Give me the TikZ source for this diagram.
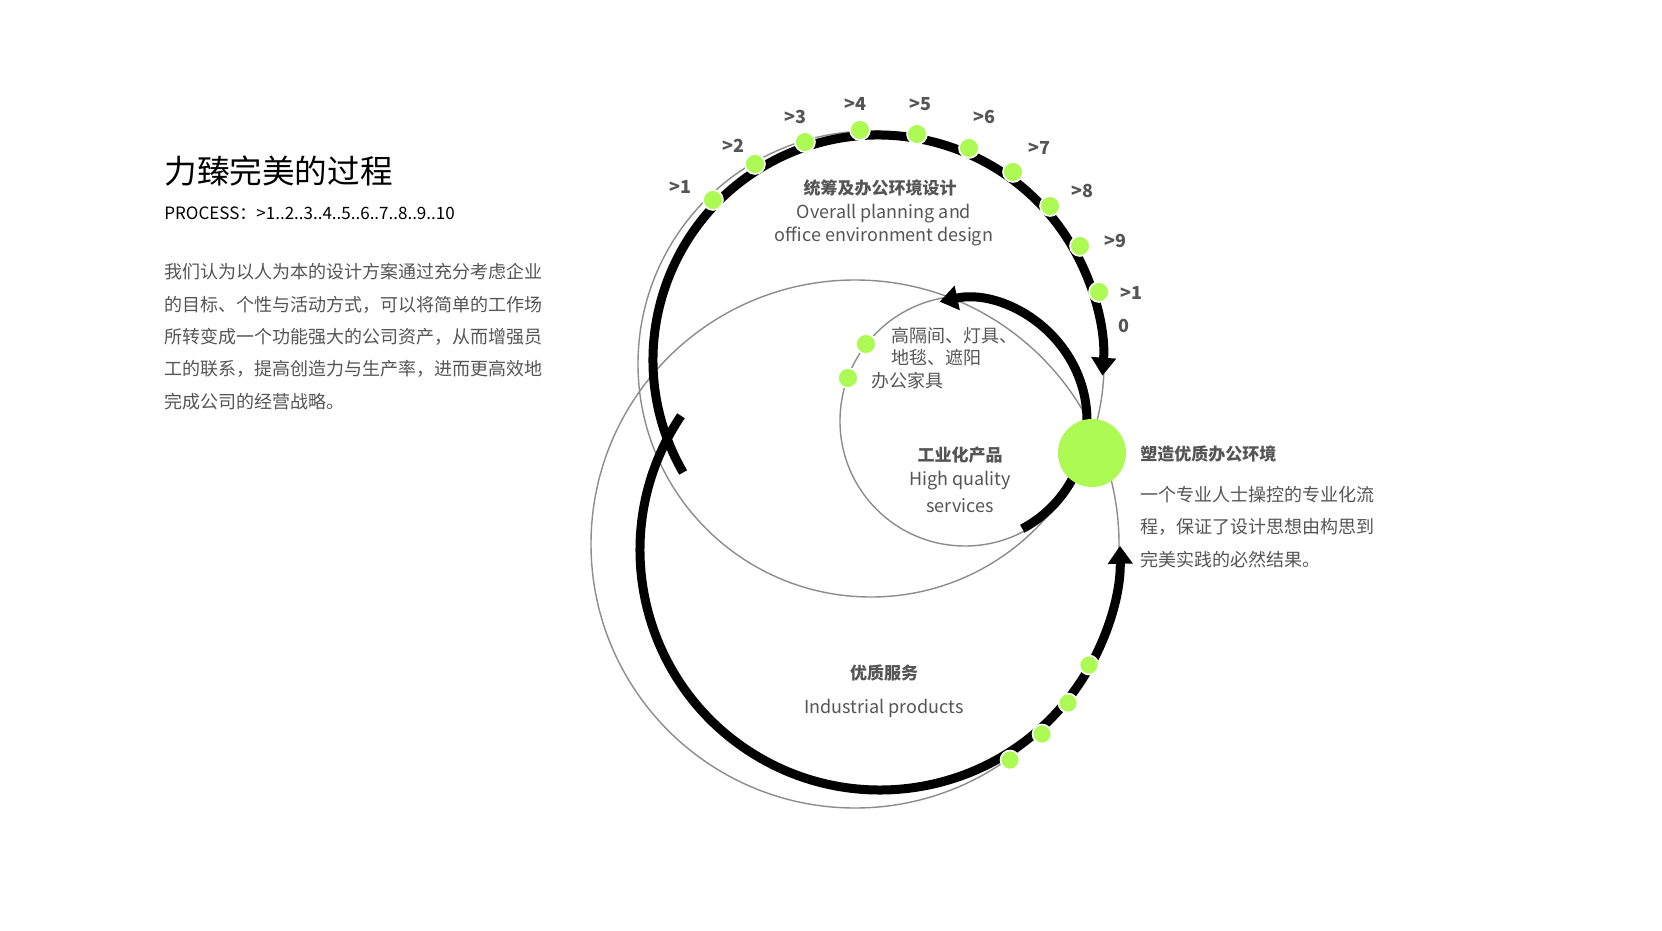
\documentclass[tikz,border=0pt]{standalone}
\usepackage{fontspec}
\setmainfont{Noto Sans CJK SC}
\usetikzlibrary{arrows.meta}
\definecolor{lg}{HTML}{ADFA55}
\definecolor{tx}{HTML}{555555}
\begin{document}
\begin{tikzpicture}[x=0.5pt,y=-0.5pt,
  gc/.style={draw=gray!90,line width=0.7pt},
  bk/.style={line width=4.5pt},
  dot/.style={circle,fill=lg,draw=white,line width=0.8pt,minimum size=10pt,inner sep=0pt},
  sdot/.style={circle,fill=lg,draw=white,line width=0.8pt,minimum size=9.5pt,inner sep=0pt},
  num/.style={font=\bfseries\fontsize{9}{10}\selectfont,text=tx},
  bt/.style={font=\bfseries\fontsize{8.5}{10}\selectfont,text=tx},
  et/.style={font=\fontsize{9}{11}\selectfont,text=tx},
  para/.style={font=\fontsize{9}{16.2}\selectfont,text=tx,align=left,anchor=north west,inner sep=0pt}]
\useasboundingbox[fill=white] (0,0) rectangle (1662,931);
% gray circles
\coordinate (ca) at (871,364);
\coordinate (cb) at (855,544);
\coordinate (cc) at (965,421);
\draw[gc] (ca) circle[radius=233];
\draw[gc] (cb) circle[radius=264];
\draw[gc] (cc) circle[radius=125];
% black arcs
\coordinate (ct) at (878,360);
\draw[bk,-{Triangle[length=9pt,width=12pt]}] (ct) ++(150:225) arc[start angle=150,end angle=364,radius=225];
\coordinate (cl) at (880,550);
\draw[bk,-{Triangle[length=9pt,width=12pt]}] (cl) ++(214:240) arc[start angle=214,end angle=-1,radius=240];
\draw[bk,-{Triangle[length=9pt,width=12pt]}] (cc) ++(62:122) arc[start angle=62,end angle=-102,radius=122];
% big dot
\node[circle,fill=lg,minimum size=34pt,inner sep=0pt] (big) at (1092,453) {};
% top dots
\foreach \x/\y/\n in {713/200/d1,755/164/d2,805/142/d3,860/130/d4,917/134/d5,969/148/d6,1013/172/d7,1050/206/d8,1080/246/d9,1099/292/d10}
  \node[dot] (\n) at (\x,\y) {};
\foreach \x/\y/\n in {1010/760/b1,1042/734/b2,1068/703/b3,1089/665/b4}
  \node[sdot] (\n) at (\x,\y) {};
\node[dot] (i1) at (866,344) {};
\node[dot] (i2) at (848,378) {};
% numbers
\node[num] (n1) at (680,187) {>1};
\node[num] (n2) at (733,146) {>2};
\node[num] (n3) at (795,117) {>3};
\node[num] (n4) at (855,104) {>4};
\node[num] (n5) at (920,104) {>5};
\node[num] (n6) at (984,117) {>6};
\node[num] (n7) at (1039,148) {>7};
\node[num] (n8) at (1082,191) {>8};
\node[num] (n9) at (1115,241) {>9};
\node[num] (n10) at (1131,293) {>1};
\node[num] (n10b) at (1124,326) {0};
% center texts
\node[bt] (t1) at (880,188) {统筹及办公环境设计};
\node[et] (t2) at (884,214) {Overall planning and};
\node[et] (t3) at (884,236) {office environment design};
\node[et,anchor=west] (t4) at (884,336) {高隔间、灯具、};
\node[et,anchor=west] (t5) at (884,358) {地毯、遮阳};
\node[et,anchor=west] (t6) at (864,381) {办公家具};
\node[bt] (t7) at (960,455) {工业化产品};
\node[et] (t8) at (960,481) {High quality};
\node[et] (t9) at (960,506) {services};
\node[bt] (t10) at (884,673) {优质服务};
\node[et] (t11) at (884,708) {Industrial products};
% left texts
\node[anchor=west,inner sep=0pt,font=\fontsize{16.3}{18}\selectfont,text=black] (title) at (164,171) {力臻完美的过程};
\node[anchor=west,inner sep=0pt,font=\fontsize{8.5}{10}\selectfont,text=black] (proc) at (164,213) {PROCESS：>1..2..3..4..5..6..7..8..9..10};
\node[para] (p1) at (164,263) {我们认为以人为本的设计方案通过充分考虑企业\\的目标、个性与活动方式，可以将简单的工作场\\所转变成一个功能强大的公司资产，从而增强员\\工的联系，提高创造力与生产率，进而更高效地\\完成公司的经营战略。};
% right texts
\node[bt,anchor=west,inner sep=0pt] (rt) at (1140,454) {塑造优质办公环境};
\node[para] (p2) at (1140,486) {一个专业人士操控的专业化流\\程，保证了设计思想由构思到\\完美实践的必然结果。};
\end{tikzpicture}
\end{document}
